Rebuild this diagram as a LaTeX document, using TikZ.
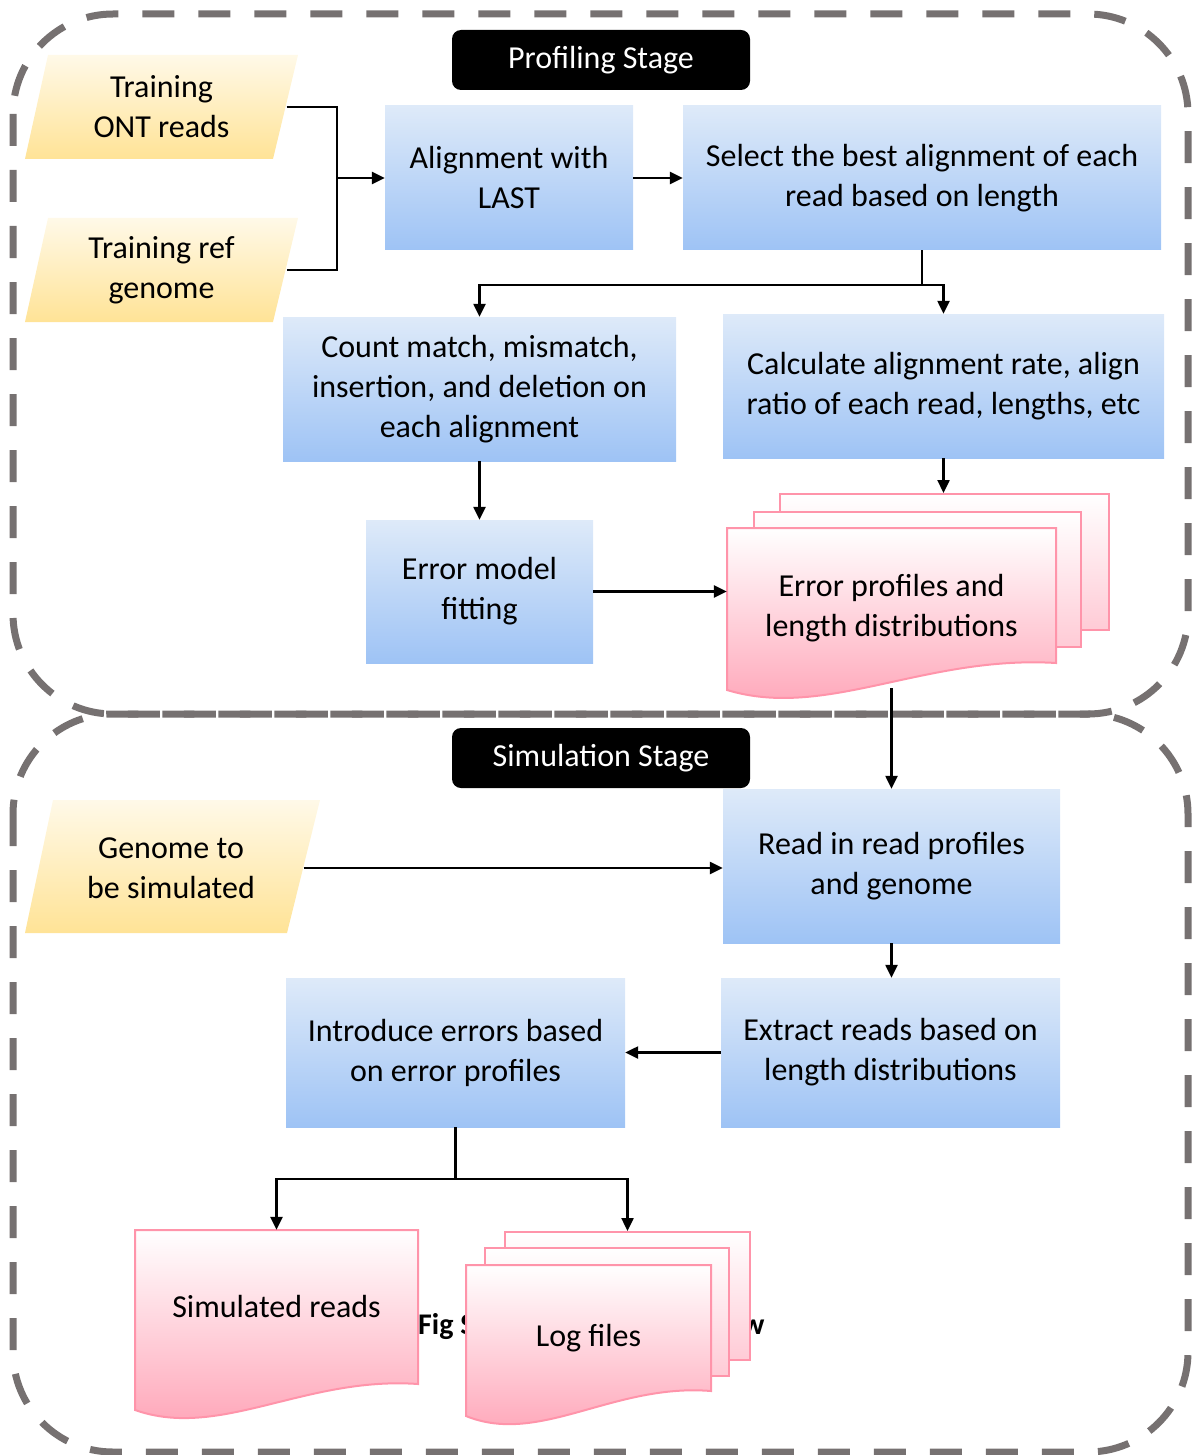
\documentclass[tikz,border=0pt]{standalone}
\usepackage{fontspec}
\setmainfont{Carlito}
\usetikzlibrary{arrows.meta,calc}
\definecolor{dashgray}{HTML}{767171}
\definecolor{bluetop}{HTML}{DEEAF9}
\definecolor{bluebot}{HTML}{9EC3F5}
\definecolor{yeltop}{HTML}{FFF9E8}
\definecolor{yelbot}{HTML}{FFE396}
\definecolor{pinkline}{HTML}{FF94AA}
\definecolor{pinkbot}{HTML}{FFA0B4}
\newcommand\mydoc[5]{%
  \path[docfill] (#1,#2) -- (#3,#2) -- (#3,#5)
    .. controls ({#1+0.6*(#3-#1)},{#5-8}) and ({#1+0.3*(#3-#1)},{#4+30}) .. (#1,#4) -- cycle;}
\begin{document}
\begin{tikzpicture}[x=1pt,y=-1pt,
  every node/.style={font=\fontsize{32}{40}\selectfont, align=center, inner sep=0pt},
  frame/.style={draw=dashgray, line width=7pt, dash pattern=on 32pt off 24pt, rounded corners=100pt},
  bluebox/.style={rectangle, top color=bluetop, bottom color=bluebot, draw=none},
  stagelabel/.style={rectangle, rounded corners=9pt, fill=black, text=white, minimum width=298pt, minimum height=60pt},
  para/.style={top color=yeltop, bottom color=yelbot, draw=none},
  docfill/.style={top color=white, bottom color=pinkbot, draw=pinkline, line width=2pt},
  backdoc/.style={rectangle, top color=white, bottom color=pinkbot!55, draw=pinkline, line width=2pt},
  arr/.style={line width=2.4pt, -{Triangle[length=13pt,width=12pt]}},
  conn/.style={line width=2.4pt},
  figtext/.style={font=\fontsize{30}{34}\selectfont\bfseries, anchor=base west}
]
\useasboundingbox (0,0) rectangle (1196,1455);

% stage frames
\draw[frame] (13,14) rectangle (1188,714);
\draw[frame] (13,714) rectangle (1188,1452);

% stage labels
\node[stagelabel] (prof) at (601,60) {Profiling Stage};
\node[stagelabel] (sim) at (601,758) {Simulation Stage};

% partly hidden caption pieces
\node[figtext] (figl) at (418,1334) {Fig S};
\node[figtext] (figr) at (742,1334) {w};

% input parallelograms
\shade[para] (48,55) -- (298,55) -- (273,159) -- (25,159) -- cycle;
\node[minimum width=250pt, minimum height=104pt] (ont) at (161.5,107) {Training\\ONT reads};
\shade[para] (48,218) -- (298,218) -- (273,322) -- (25,322) -- cycle;
\node[minimum width=250pt, minimum height=104pt] (ref) at (161.5,270) {Training ref\\genome};
\shade[para] (53,800) -- (320,800) -- (287,933) -- (25,933) -- cycle;
\node[minimum width=265pt, minimum height=133pt] (genome) at (171,868) {Genome to\\be simulated};

% process boxes
\node[bluebox, minimum width=248pt, minimum height=144pt] (align) at (509,178) {Alignment with\\LAST};
\node[bluebox, minimum width=478pt, minimum height=144pt] (select) at (922,178) {Select the best alignment of each\\read based on length};
\node[bluebox, minimum width=393pt, minimum height=144pt] (count) at (479.5,389) {Count match, mismatch,\\insertion, and deletion on\\each alignment};
\node[bluebox, minimum width=441pt, minimum height=144pt] (calc) at (943.5,386) {Calculate alignment rate, align\\ratio of each read, lengths, etc};
\node[bluebox, minimum width=227pt, minimum height=143pt] (errfit) at (479.5,591.5) {Error model\\fitting};
\node[bluebox, minimum width=337pt, minimum height=154pt] (read) at (891.5,866) {Read in read profiles\\and genome};
\node[bluebox, minimum width=339pt, minimum height=149pt] (extract) at (890.5,1052.5) {Extract reads based on\\length distributions};
\node[bluebox, minimum width=339pt, minimum height=149pt] (intro) at (455.5,1052.5) {Introduce errors based\\on error profiles};

% error profile documents
\node[backdoc, minimum width=329pt, minimum height=136pt] (errback) at (944.5,562) {};
\node[backdoc, minimum width=327pt, minimum height=135pt] (errmid) at (917.5,579.5) {};
\mydoc{727}{528}{1056}{690}{663}
\node[minimum width=329pt, minimum height=160pt] (errprof) at (891.5,608) {Error profiles and\\length distributions};

% simulated reads document
\mydoc{135}{1230}{418}{1410}{1384}
\node[minimum width=283pt, minimum height=152pt] (simreads) at (276.5,1306) {Simulated reads};

% log files documents
\node[backdoc, minimum width=245pt, minimum height=128pt] (logback) at (627.5,1296) {};
\node[backdoc, minimum width=244pt, minimum height=128pt] (logmid) at (607,1312) {};
\mydoc{466}{1265}{711}{1416}{1391}
\node[minimum width=245pt, minimum height=146pt] (logs) at (588.5,1338) {Log files};

% connectors
\coordinate (j1) at (337,178);
\draw[conn] (ont.east) -| (j1) |- (ref.east);
\draw[arr] (j1) -- (align.west);
\draw[arr] (align.east) -- (select.west);
\coordinate (j2) at ($(select.south)+(0,35)$);
\draw[conn] (select.south) -- (j2);
\draw[arr] (j2) -| (count.north);
\draw[arr] (j2) -| (calc.north);
\draw[arr] (count.south) -- (errfit.north);
\draw[arr] (errfit.east) -- (errfit.east -| errprof.west);
\draw[arr] (calc.south) -- (calc.south |- errback.north);
\draw[arr] (errprof.south) -- (read.north);
\draw[arr] (genome.east) -- (genome.east -| read.west);
\draw[arr] (read.south) -- (read.south |- extract.north);
\draw[arr] (extract.west) -- (intro.east);
\coordinate (j3) at ($(intro.south)+(0,52)$);
\draw[conn] (intro.south) -- (j3);
\draw[arr] (j3) -| (simreads.north);
\draw[arr] (j3) -| (logback.north);
\end{tikzpicture}
\end{document}
